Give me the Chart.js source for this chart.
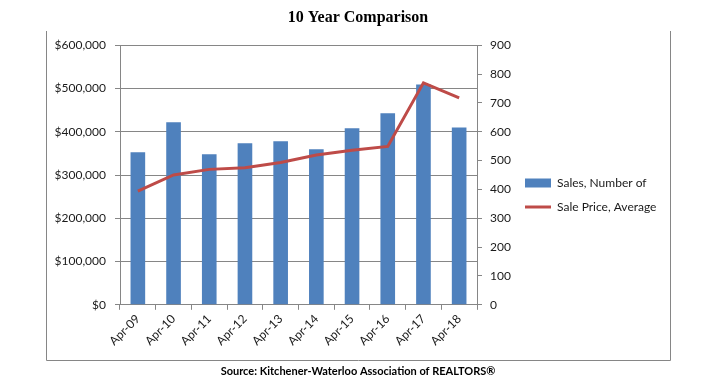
<!DOCTYPE html>
<html>
<head>
<meta charset="utf-8">
<script src="https://cdn.jsdelivr.net/npm/chart.js@4"></script>
<style>
html,body{margin:0;padding:0;background:#fff;}
#wrap{position:relative;width:712px;height:390px;}
</style>
</head>
<body>
<div id="wrap"><canvas id="c" width="712" height="390"></canvas></div>
<script>
const categories = ['Apr-09','Apr-10','Apr-11','Apr-12','Apr-13','Apr-14','Apr-15','Apr-16','Apr-17','Apr-18'];
const salesNumber = [529, 633, 522, 560, 567, 539, 612, 664, 764, 615];
const salePriceAverage = [263000, 300000, 313000, 317000, 329000, 346000, 357000, 366000, 513000, 478000];
const seriesNames = ['Sales, Number of', 'Sale Price, Average'];
const titleText = '10 Year Comparison';
const sourceText = 'Source: Kitchener-Waterloo Association of REALTORS\u00AE';

const GRID = '#868686';
const TXT = '#1a1a1a';
const FONT = 'Lato, "Liberation Sans", sans-serif';

const framePlugin = {
  id: 'frame',
  beforeDraw(chart) {
    const ctx = chart.ctx;
    ctx.save();
    ctx.strokeStyle = GRID;
    ctx.lineWidth = 1;
    ctx.beginPath();
    ctx.moveTo(46.5, 31);
    ctx.lineTo(46.5, 360.5);
    ctx.lineTo(670.5, 360.5);
    ctx.lineTo(670.5, 31);
    ctx.stroke();
    ctx.restore();
  }
};

new Chart(document.getElementById('c'), {
  data: {
    labels: categories,
    datasets: [
      {
        type: 'bar',
        label: seriesNames[0],
        data: salesNumber,
        yAxisID: 'y1',
        backgroundColor: '#4F81BD',
        borderWidth: 0,
        barPercentage: 0.41,
        categoryPercentage: 1,
        pointStyle: 'rect',
        order: 2
      },
      {
        type: 'line',
        label: seriesNames[1],
        data: salePriceAverage,
        yAxisID: 'y',
        borderColor: '#BE4B48',
        backgroundColor: '#BE4B48',
        borderWidth: 3,
        pointRadius: 0,
        tension: 0,
        pointStyle: 'line',
        order: 1
      }
    ]
  },
  options: {
    responsive: false,
    animation: false,
    layout: { padding: { left: 53, right: 49, top: 0, bottom: 0 } },
    plugins: {
      tooltip: { enabled: false },
      title: {
        display: true,
        text: titleText,
        color: '#000',
        font: { family: '"Liberation Serif", serif', size: 16, weight: 'bold', lineHeight: 1.2 },
        padding: { top: 8, bottom: 18 }
      },
      subtitle: {
        display: true,
        position: 'bottom',
        text: sourceText,
        color: '#000',
        font: { family: FONT, size: 11, weight: 'bold', lineHeight: 1.2 },
        padding: { top: 6, bottom: 12 }
      },
      legend: {
        display: true,
        position: 'right',
        align: 'center',
        maxWidth: 150,
        labels: {
          usePointStyle: true,
          pointStyleWidth: 26,
          boxHeight: 9,
          padding: 12,
          color: TXT,
          font: { family: FONT, size: 12 },
          sort: (a, b) => a.datasetIndex - b.datasetIndex
        }
      }
    },
    scales: {
      x: {
        grid: { display: true, offset: true, drawOnChartArea: false, tickLength: 5, color: GRID },
        border: { display: true, color: GRID },
        ticks: { minRotation: 45, maxRotation: 45, color: TXT, font: { family: FONT, size: 12 }, padding: 2 },
        afterFit(scale) { scale.height = 54; }
      },
      y: {
        position: 'left',
        min: 0,
        max: 600000,
        grid: { color: GRID, tickLength: 5 },
        border: { display: true, color: GRID },
        ticks: {
          stepSize: 100000,
          padding: 9,
          color: TXT,
          font: { family: FONT, size: 12 },
          callback: v => '$' + Number(v).toLocaleString('en-US')
        },
        afterFit(scale) { scale.width = 67; }
      },
      y1: {
        position: 'right',
        min: 0,
        max: 900,
        grid: { drawOnChartArea: false, color: GRID, tickLength: 5 },
        border: { display: true, color: GRID },
        ticks: { stepSize: 100, padding: 8, color: TXT, font: { family: FONT, size: 12 } },
        afterFit(scale) { scale.width = 36; }
      }
    }
  },
  plugins: [framePlugin]
});
</script>
</body>
</html>
